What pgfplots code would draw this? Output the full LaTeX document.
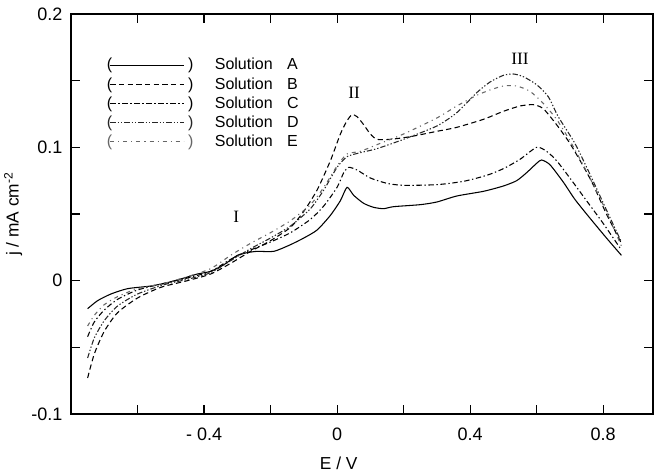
\documentclass[border=0pt]{standalone}
\usepackage{fontspec}
\setmainfont{Liberation Sans}
\newfontfamily\romfont{Liberation Serif}
\usepackage{pgfplots}
\pgfplotsset{compat=1.18}

\pgfplotstableread{
E j
-0.75 -0.021
-0.72 -0.015
-0.68 -0.010
-0.63 -0.006
-0.56 -0.004
-0.51 -0.0015
-0.46 0.002
-0.42 0.005
-0.38 0.007
-0.34 0.012
-0.30 0.019
-0.27 0.021
-0.24 0.022
-0.19 0.022
-0.14 0.027
-0.10 0.032
-0.06 0.038
-0.02 0.049
0.01 0.060
0.03 0.070
0.05 0.064
0.08 0.058
0.11 0.055
0.14 0.054
0.17 0.0555
0.25 0.057
0.30 0.059
0.36 0.0635
0.44 0.067
0.50 0.071
0.54 0.075
0.57 0.081
0.60 0.088
0.615 0.0905
0.64 0.087
0.68 0.074
0.715 0.061
0.76 0.047
0.81 0.032
0.855 0.019
}\solA

\pgfplotstableread{
E j
-0.75 -0.073
-0.73 -0.055
-0.70 -0.038
-0.66 -0.024
-0.60 -0.013
-0.53 -0.005
-0.45 0.000
-0.38 0.005
-0.32 0.013
-0.26 0.022
-0.20 0.030
-0.14 0.040
-0.10 0.052
-0.06 0.068
-0.02 0.090
0.01 0.110
0.03 0.120
0.045 0.1245
0.06 0.123
0.08 0.117
0.10 0.110
0.12 0.106
0.16 0.106
0.22 0.108
0.30 0.112
0.36 0.115
0.44 0.121
0.50 0.127
0.55 0.131
0.59 0.132
0.62 0.129
0.66 0.117
0.70 0.103
0.74 0.086
0.77 0.072
0.81 0.050
0.855 0.028
}\solB

\pgfplotstableread{
E j
-0.75 -0.042
-0.73 -0.031
-0.70 -0.022
-0.66 -0.014
-0.60 -0.007
-0.52 -0.002
-0.45 0.002
-0.38 0.007
-0.32 0.016
-0.26 0.023
-0.20 0.029
-0.14 0.036
-0.08 0.046
-0.04 0.056
0.00 0.070
0.02 0.081
0.035 0.085
0.06 0.083
0.10 0.077
0.15 0.073
0.20 0.0715
0.30 0.072
0.38 0.0745
0.45 0.079
0.50 0.084
0.55 0.091
0.60 0.100
0.63 0.097
0.66 0.090
0.70 0.077
0.75 0.060
0.80 0.043
0.855 0.023
}\solC

\pgfplotstableread{
E j
-0.75 -0.058
-0.73 -0.043
-0.70 -0.030
-0.66 -0.019
-0.60 -0.010
-0.52 -0.003
-0.45 0.001
-0.38 0.006
-0.32 0.015
-0.26 0.024
-0.20 0.032
-0.14 0.041
-0.08 0.054
-0.04 0.068
0.00 0.085
0.03 0.093
0.07 0.096
0.12 0.099
0.20 0.106
0.30 0.116
0.36 0.126
0.42 0.141
0.46 0.149
0.50 0.154
0.53 0.155
0.56 0.153
0.60 0.147
0.635 0.138
0.665 0.123
0.715 0.103
0.76 0.080
0.81 0.053
0.855 0.029
}\solD

\pgfplotstableread{
E j
-0.75 -0.034
-0.73 -0.026
-0.70 -0.018
-0.66 -0.012
-0.60 -0.006
-0.52 -0.002
-0.45 0.003
-0.38 0.009
-0.32 0.019
-0.26 0.028
-0.20 0.036
-0.14 0.045
-0.08 0.057
-0.04 0.070
0.00 0.086
0.03 0.095
0.07 0.097
0.12 0.102
0.20 0.110
0.30 0.122
0.36 0.131
0.42 0.139
0.46 0.143
0.50 0.146
0.54 0.146
0.58 0.142
0.62 0.133
0.66 0.121
0.70 0.105
0.75 0.082
0.80 0.057
0.855 0.026
}\solE

\begin{document}
\begin{tikzpicture}
\begin{axis}[
  width=436.5pt, height=300pt, scale only axis,
  xmin=-0.8, xmax=0.95, ymin=-0.1, ymax=0.2,
  xtick={-0.6,-0.4,-0.2,0,0.2,0.4,0.6,0.8},
  xticklabels={,- 0.4,,0,,0.4,,0.8},
  ytick={-0.1,-0.05,0,0.05,0.1,0.15,0.2},
  yticklabels={-0.1,,0,,0.1,,0.2},
  tick align=inside, major tick length=7pt,
  tick style={black, line width=0.8pt},
  axis line style={line width=0.9pt},
  ticklabel style={font=\fontsize{13.5}{15}\selectfont},
  xticklabel style={yshift=-7pt},
  yticklabel style={xshift=-3pt},
  xlabel={E / V}, ylabel={j / mA cm\textsuperscript{-2}},
  label style={font=\fontsize{13}{15}\selectfont},
  xlabel style={at={(ticklabel cs:0.46)}, yshift=-5pt},
  ylabel style={yshift=0pt},
  legend style={draw=none, fill=none, at={(axis cs:-0.705,0.171)}, anchor=north west,
    font=\fontsize{12}{14}\selectfont, row sep=0.2pt,
    /tikz/every odd column/.append style={column sep=14pt}},
  legend cell align=left,
  legend image code/.code={
    \node[inner sep=0pt] at (0pt,0pt) {(};
    \draw[#1] (3pt,0pt) -- (58pt,0pt);
    \node[inner sep=0pt] at (61pt,0pt) {)};
  },
  every axis plot/.append style={line width=0.8pt, smooth, tension=0.4},
]
\addplot[black] table {\solA};
\addlegendentry{Solution\hspace{0.9em}A}
\addplot[black, dash pattern=on 4pt off 2.5pt] table {\solB};
\addlegendentry{Solution\hspace{0.9em}B}
\addplot[black, dash pattern=on 4pt off 2pt on 1pt off 2pt] table {\solC};
\addlegendentry{Solution\hspace{0.9em}C}
\addplot[black!85, dash pattern=on 4pt off 1.5pt on 1pt off 1.5pt on 1pt off 1.5pt] table {\solD};
\addlegendentry{Solution\hspace{0.9em}D}
\addplot[black!60, dash pattern=on 3pt off 3pt on 0.8pt off 3pt] table {\solE};
\addlegendentry{Solution\hspace{0.9em}E}
\node[font=\romfont\fontsize{13}{15}\selectfont] at (axis cs:-0.303,0.048) {I};
\node[font=\romfont\fontsize{13}{15}\selectfont] at (axis cs:0.051,0.141) {II};
\node[font=\romfont\fontsize{13}{15}\selectfont] at (axis cs:0.55,0.1665) {III};
\end{axis}
\pgfresetboundingbox
\path[use as bounding box] (-53.25pt,-45.75pt) rectangle (438.75pt,310.5pt);
\end{tikzpicture}
\end{document}
